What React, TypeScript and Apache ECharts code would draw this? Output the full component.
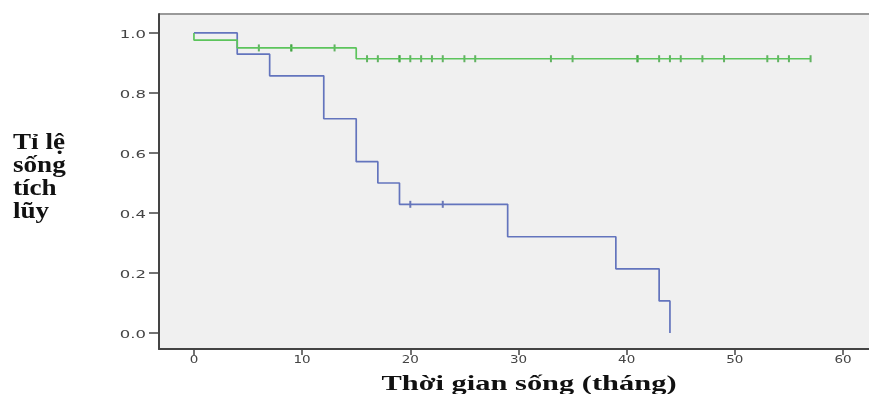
import React, { useEffect, useRef } from "react";
import * as echarts from "echarts";

// Group 1 (blue): event times and survival after each step
const blueTimes = [0, 4, 7, 12, 15, 17, 19, 29, 39, 43, 44];
const blueSurv = [1.0, 0.929, 0.857, 0.714, 0.571, 0.5, 0.429, 0.321, 0.214, 0.107, 0.0];
const blueCensor = [20, 23];

// Group 2 (green)
const greenTimes = [0, 0, 4, 15, 57];
const greenSurv = [1.0, 0.976, 0.95, 0.914, 0.914];
const greenCensor = [6, 9, 9, 13, 16, 17, 19, 19, 20, 21, 22, 23, 25, 26, 33, 35, 41, 41, 43, 44, 45, 47, 49, 53, 54, 55, 57];

const xTicks = [0, 10, 20, 30, 40, 50, 60];
const yTicks = [0, 0.2, 0.4, 0.6, 0.8, 1.0];

const yTitleLines = ["Tỉ lệ", "sống", "tích", "lũy"];
const xTitle = "Thời gian sống (tháng)";

function survAt(times: number[], surv: number[], t: number) {
  let v = surv[0];
  for (let i = 0; i < times.length; i++) {
    if (times[i] <= t) v = surv[i];
  }
  return v;
}

export default function App() {
  const ref = useRef<HTMLDivElement>(null);
  useEffect(() => {
    if (!ref.current) return;
    const chart = echarts.init(ref.current, undefined, { renderer: "svg" });
    const blue = "#6374bd";
    const green = "#5cc45c";
    const tickFont = "10px 'DejaVu Sans', sans-serif";
    chart.setOption({
      animation: false,
      grid: {
        left: 159,
        right: 0,
        top: 14,
        bottom: 45,
        show: true,
        backgroundColor: "#f0f0f0",
        borderWidth: 0,
      },
      xAxis: {
        type: "value",
        min: -3.23,
        max: 62.4,
        splitLine: { show: false },
        axisLine: { show: true, onZero: false, lineStyle: { color: "#444", width: 2 } },
        axisTick: { show: true, customValues: xTicks, length: 6, lineStyle: { color: "#444", width: 1.5 } },
        axisLabel: { show: false, customValues: xTicks },
      },
      yAxis: {
        type: "value",
        min: -0.053,
        max: 1.063,
        splitLine: { show: false },
        axisLine: { show: true, onZero: false, lineStyle: { color: "#444", width: 2 } },
        axisTick: { show: true, customValues: yTicks, length: 10, lineStyle: { color: "#444", width: 1.5 } },
        axisLabel: { show: false, customValues: yTicks },
      },
      series: [
        {
          type: "line",
          step: "end",
          data: blueTimes.map((t, i) => [t, blueSurv[i]]),
          showSymbol: false,
          lineStyle: { color: blue, width: 1.7 },
        },
        {
          type: "line",
          step: "end",
          data: greenTimes.map((t, i) => [t, greenSurv[i]]),
          showSymbol: false,
          lineStyle: { color: green, width: 1.7 },
        },
        {
          type: "scatter",
          data: blueCensor.map((t) => [t, survAt(blueTimes, blueSurv, t)]),
          symbol: "rect",
          symbolSize: [2, 7],
          itemStyle: { color: "#4a5aa8" },
        },
        {
          type: "scatter",
          data: greenCensor.map((t) => [t, survAt(greenTimes, greenSurv, t)]),
          symbol: "rect",
          symbolSize: [2, 7],
          itemStyle: { color: "#3fa33f" },
        },
      ],
    });

    const labels: any[] = [];
    xTicks.forEach((v) => {
      const p = chart.convertToPixel({ xAxisIndex: 0, yAxisIndex: 0 }, [v, 0]) as number[];
      labels.push({
        type: "text",
        x: p[0],
        y: 360,
        scaleX: 1.35,
        style: {
          text: String(v),
          font: tickFont,
          fill: "#444",
          align: "center",
          verticalAlign: "middle",
        },
      });
    });
    yTicks.forEach((v) => {
      const p = chart.convertToPixel({ xAxisIndex: 0, yAxisIndex: 0 }, [0, v]) as number[];
      labels.push({
        type: "text",
        x: 146,
        y: p[1] + 1,
        scaleX: 1.65,
        style: {
          text: v.toFixed(1),
          font: tickFont,
          fill: "#444",
          align: "right",
          verticalAlign: "middle",
        },
      });
    });

    chart.setOption({
      graphic: [
        {
          type: "line",
          shape: { x1: 159, y1: 14, x2: 869, y2: 14 },
          style: { stroke: "#999", lineWidth: 2 },
        },
        ...yTitleLines.map((s, i) => ({
          type: "text",
          x: 13,
          y: 153 + i * 23,
          scaleX: 1.18,
          style: {
            text: s,
            font: "bold 23px 'Liberation Serif', 'Times New Roman', serif",
            fill: "#111",
            align: "left",
            verticalAlign: "bottom",
          },
        })),
        {
          type: "text",
          x: 529,
          y: 383,
          scaleX: 1.45,
          style: {
            text: xTitle,
            font: "bold 21px 'Liberation Serif', 'Times New Roman', serif",
            fill: "#111",
            align: "center",
            verticalAlign: "middle",
          },
        },
        ...labels,
      ],
    });
    return () => chart.dispose();
  }, []);
  return (
    <div
      ref={ref}
      style={{ width: 869, height: 394, position: "fixed", left: 0, top: 0 }}
    />
  );
}
